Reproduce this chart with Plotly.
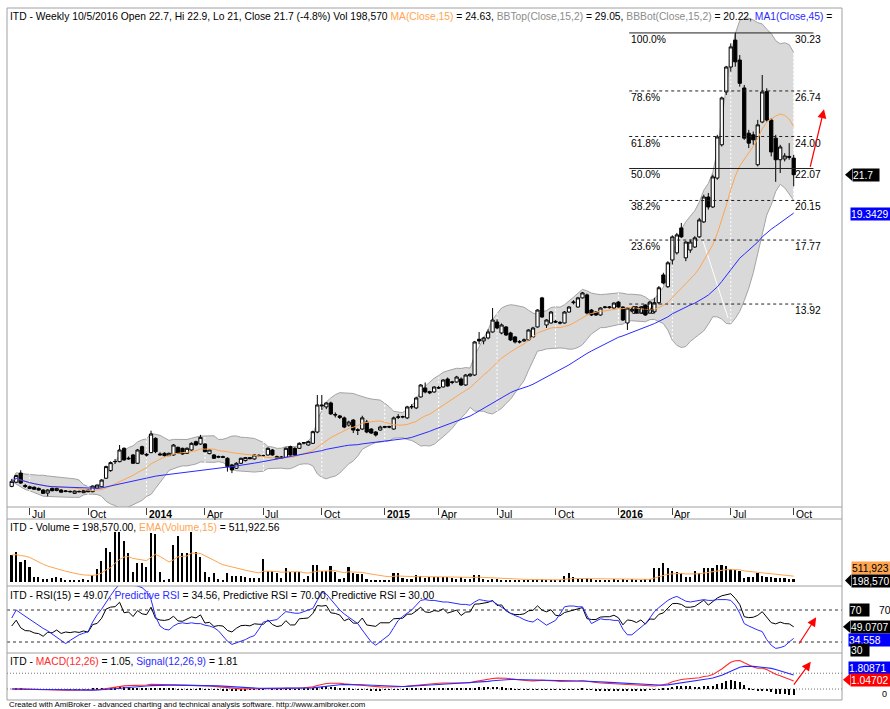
import numpy as np
import pandas as pd
import plotly.graph_objects as go

# ------------------------------------------------------------------ data (weekly bars)
first_friday = "2013-06-07"
last_bar_date = "2016-10-05"
holiday_relabel = {"2015-01-02": "2014-12-31", "2016-01-01": "2015-12-31"}

opens = [
    2.95, 3.20, 3.75, 3.00, 2.82, 2.90, 2.83, 2.73, 2.55, 2.83,
    2.70, 2.73, 2.64, 2.65, 2.53, 2.65, 2.57, 2.73, 2.63, 2.85,
    2.93, 3.44, 3.90, 4.45, 4.44, 5.24, 4.60, 4.84, 4.34, 5.34,
    4.88, 4.98, 5.84, 4.90, 4.94, 4.80, 4.84, 5.30, 5.24, 4.94,
    5.14, 5.64, 5.50, 5.50, 4.92, 4.84, 4.70, 4.74, 4.64, 4.24,
    4.04, 4.34, 4.50, 4.68, 4.60, 4.82, 4.80, 4.84, 5.14, 4.74,
    4.64, 4.70, 5.34, 5.24, 5.24, 5.55, 5.44, 5.54, 6.22, 7.85,
    7.73, 7.97, 7.28, 7.19, 7.07, 6.64, 6.94, 6.36, 6.40, 6.82,
    6.40, 6.22, 6.34, 6.50, 6.55, 6.40, 7.10, 7.12, 7.07, 7.73,
    7.67, 8.33, 8.87, 8.65, 8.63, 8.90, 8.93, 9.41, 9.20, 9.23,
    9.41, 9.05, 9.60, 9.65, 11.80, 11.70, 11.88, 12.24, 12.84, 12.18,
    12.54, 12.18, 11.94, 11.66, 11.70, 11.76, 11.94, 12.54, 14.29, 12.66,
    12.78, 12.88, 12.80, 12.78, 13.44, 14.00, 13.74, 14.29, 14.47, 13.56,
    13.44, 13.26, 13.72, 13.70, 13.68, 14.04, 13.74, 12.78, 13.50, 13.74,
    13.38, 13.86, 13.38, 13.45, 14.00, 15.67, 14.96, 16.57, 17.00, 18.50,
    16.70, 17.17, 17.35, 17.96, 18.86, 20.36, 19.76, 21.50, 23.50, 26.68,
    28.18, 29.80, 28.60, 26.92, 24.20, 24.10, 22.30, 24.87, 26.70, 24.99,
    23.90, 22.60, 22.65, 22.80, 22.70,
]
highs = [
    3.40, 3.65, 3.92, 3.10, 3.00, 2.95, 2.88, 2.78, 2.78, 2.88,
    2.88, 2.78, 2.72, 2.70, 2.70, 2.70, 2.72, 2.76, 3.00, 3.06,
    3.38, 4.20, 4.45, 4.60, 5.44, 5.30, 4.75, 4.90, 5.20, 5.40,
    4.95, 6.30, 5.90, 5.00, 5.00, 4.98, 5.50, 5.35, 5.28, 5.30,
    5.60, 5.70, 6.05, 5.55, 5.18, 4.90, 4.80, 4.80, 4.70, 4.30,
    4.40, 4.68, 4.72, 4.72, 4.88, 4.88, 4.86, 5.30, 5.20, 4.80,
    4.78, 5.30, 5.40, 5.30, 5.60, 5.62, 5.70, 6.30, 8.45, 8.45,
    8.00, 8.05, 7.40, 7.25, 7.15, 6.90, 7.00, 6.45, 7.20, 6.95,
    6.45, 6.28, 6.60, 6.60, 6.60, 7.15, 7.30, 7.20, 7.80, 7.90,
    8.35, 9.10, 9.20, 8.70, 8.98, 9.00, 9.40, 9.50, 9.30, 9.60,
    9.50, 9.70, 9.75, 11.70, 12.24, 11.95, 12.40, 13.68, 13.00, 12.75,
    12.60, 12.25, 12.00, 11.75, 11.85, 12.40, 12.55, 13.60, 14.35, 13.00,
    13.50, 12.95, 12.90, 13.50, 13.80, 14.15, 14.35, 14.65, 14.55, 13.62,
    13.50, 13.72, 13.80, 13.80, 14.02, 14.10, 13.78, 13.72, 13.70, 13.80,
    13.78, 13.90, 14.10, 14.30, 15.00, 15.80, 16.50, 18.05, 18.20, 18.80,
    17.70, 17.80, 18.00, 19.10, 20.50, 20.60, 21.70, 24.10, 26.40, 28.25,
    29.60, 30.23, 28.90, 27.10, 24.40, 24.30, 25.00, 27.70, 26.90, 25.10,
    24.10, 23.50, 23.00, 23.60, 22.90,
]
lows = [
    2.90, 3.15, 3.10, 2.85, 2.78, 2.75, 2.70, 2.50, 2.35, 2.65,
    2.66, 2.58, 2.60, 2.58, 2.50, 2.60, 2.55, 2.60, 2.60, 2.82,
    2.90, 3.40, 3.83, 4.30, 4.40, 4.50, 4.55, 4.30, 4.30, 4.85,
    4.75, 4.95, 4.95, 4.80, 4.75, 4.78, 4.80, 4.90, 4.85, 4.90,
    5.10, 5.40, 5.45, 5.00, 4.88, 4.60, 4.65, 4.65, 3.84, 3.75,
    4.00, 4.30, 4.45, 4.58, 4.55, 4.75, 4.74, 4.80, 4.80, 4.58,
    4.60, 4.66, 4.80, 4.80, 5.20, 5.48, 5.40, 5.50, 6.15, 7.55,
    7.60, 7.25, 7.10, 7.00, 6.45, 6.55, 6.16, 6.04, 6.35, 6.15,
    6.10, 5.95, 6.30, 6.45, 6.45, 6.35, 7.00, 7.05, 7.00, 7.60,
    7.60, 8.30, 8.55, 8.50, 8.58, 8.80, 8.90, 8.95, 9.10, 9.20,
    9.00, 9.00, 9.55, 9.60, 11.50, 11.50, 11.80, 12.20, 12.40, 12.10,
    12.00, 11.70, 11.55, 11.55, 11.65, 11.70, 11.90, 12.50, 13.10, 12.48,
    12.75, 12.78, 12.70, 12.75, 13.40, 13.90, 13.70, 14.25, 13.30, 13.20,
    13.20, 13.22, 13.65, 13.65, 13.64, 13.70, 12.90, 12.36, 13.45, 13.34,
    13.34, 13.22, 13.34, 13.35, 13.90, 15.10, 14.90, 16.30, 16.90, 17.90,
    16.50, 17.00, 17.30, 17.90, 18.80, 19.60, 19.70, 21.40, 23.40, 26.50,
    27.90, 28.20, 27.00, 23.80, 23.30, 23.50, 22.20, 24.80, 24.90, 22.80,
    21.27, 21.80, 22.50, 22.60, 21.00,
]
closes = [
    3.25, 3.60, 3.15, 2.95, 2.93, 2.78, 2.73, 2.53, 2.73, 2.69,
    2.83, 2.60, 2.67, 2.63, 2.67, 2.63, 2.69, 2.63, 2.97, 3.03,
    3.33, 4.14, 4.38, 4.44, 5.14, 4.54, 4.64, 4.34, 5.14, 4.90,
    4.84, 6.10, 5.04, 4.85, 4.80, 4.94, 5.44, 4.94, 4.90, 5.24,
    5.54, 5.44, 5.90, 5.04, 5.14, 4.64, 4.75, 4.70, 4.14, 3.94,
    4.34, 4.64, 4.68, 4.62, 4.84, 4.80, 4.80, 5.24, 4.84, 4.64,
    4.72, 5.24, 4.84, 4.84, 5.54, 5.58, 5.64, 6.24, 7.85, 7.80,
    7.97, 7.31, 7.25, 7.10, 6.52, 6.82, 6.34, 6.32, 7.07, 6.22,
    6.16, 6.04, 6.52, 6.55, 6.52, 7.07, 7.13, 7.15, 7.73, 7.75,
    8.27, 9.05, 8.63, 8.58, 8.93, 8.87, 9.35, 8.99, 9.23, 9.53,
    9.05, 9.65, 9.70, 11.64, 11.70, 11.88, 12.24, 12.96, 12.48, 12.66,
    12.06, 11.76, 11.64, 11.64, 11.76, 12.36, 12.48, 13.56, 13.14, 12.96,
    13.44, 12.84, 12.78, 13.44, 13.74, 14.04, 14.29, 14.59, 13.38, 13.26,
    13.26, 13.68, 13.74, 13.74, 13.98, 13.74, 12.96, 13.68, 13.60, 13.38,
    13.74, 13.26, 14.04, 14.00, 14.90, 15.19, 16.40, 17.96, 18.08, 17.96,
    17.65, 17.65, 17.90, 18.98, 20.36, 19.76, 21.57, 23.97, 26.32, 28.18,
    29.39, 28.49, 27.20, 23.90, 23.60, 23.80, 24.70, 26.68, 24.99, 23.07,
    22.60, 23.37, 22.83, 22.75, 21.70,
]
volume_thousands = [
    2000, 2200, 1500, 1630, 1130, 375, 320, 170, 200, 250,
    320, 280, 130, 100, 130, 75, 170, 130, 500, 920,
    1550, 2500, 2250, 3700, 3700, 3080, 2120, 750, 1370, 1370,
    1070, 3620, 3580, 750, 75, 200, 2750, 3450, 2120, 2120,
    3700, 2250, 1820, 750, 375, 620, 170, 130, 675, 430,
    430, 430, 320, 250, 250, 250, 1670, 825, 825, 620,
    250, 1000, 750, 750, 750, 200, 430, 1250, 1250, 800,
    800, 1180, 750, 170, 250, 1125, 675, 580, 580, 170,
    130, 75, 75, 130, 130, 620, 620, 250, 170, 170,
    500, 430, 250, 375, 375, 320, 375, 320, 250, 170,
    320, 225, 170, 500, 500, 170, 130, 170, 170, 100,
    100, 75, 130, 130, 100, 100, 100, 130, 170, 100,
    100, 100, 130, 430, 620, 320, 225, 200, 250, 170,
    130, 100, 150, 150, 170, 150, 170, 150, 170, 130,
    150, 170, 225, 1000, 1000, 1370, 1000, 825, 750, 675,
    320, 375, 800, 675, 1050, 1050, 1000, 1250, 1250, 1200,
    920, 880, 825, 250, 375, 320, 675, 430, 320, 375,
    300, 250, 250, 200, 198.57,
]
predictive_rsi = [
    60, 70, 66, 62, 58, 55, 51, 47, 44, 40,
    35, 31, 28, 32, 36, 39, 41, 43, 55, 64,
    71, 80, 88, 96, 102, 104, 103, 101, 100, 98,
    93, 83, 62, 50, 46, 45, 50, 53, 54, 53,
    54, 53, 53, 51, 50, 48, 44, 38, 31, 27,
    29, 31, 33, 36, 38, 46, 55, 56, 57, 58,
    63, 68, 67, 66, 66, 68, 70, 72, 82, 92,
    90, 83, 76, 70, 65, 61, 57, 53, 45, 37,
    30, 26, 30, 35, 39, 48, 57, 62, 66, 70,
    76, 82, 83, 82, 82, 81, 80, 80, 79, 78,
    77, 77, 76, 80, 83, 82, 81, 81, 77, 73,
    70, 66, 63, 61, 58, 56, 55, 59, 55, 51,
    54, 57, 65, 74, 75, 75, 74, 74, 63, 53,
    56, 59, 58, 58, 57, 57, 46, 39, 39, 44,
    49, 53, 60, 68, 73, 78, 82, 85, 87, 84,
    81, 80, 81, 82, 83, 82, 82, 83, 83, 83,
    82, 76, 66, 53, 50, 47, 45, 43, 33, 26,
    22, 23, 25, 30, 34.56,
]
rsi_levels = [70, 30]

# Fibonacci retracement drawn on the chart
fib_low, fib_high = 13.92, 30.23
fib_pcts = [1.0, 0.786, 0.618, 0.5, 0.382, 0.236, 0.0]
fib_pct_text = ["100.0%", "78.6%", "61.8%", "50.0%", "38.2%", "23.6%", "0.0%"]
fib_val_text = ["30.23", "26.74", "24.00", "22.07", "20.15", "17.77", "13.92"]
fib_solid = [True, False, False, True, False, False, False]
fib_bar_start, fib_bar_end, fib_value_bar = 137.4, 178.4, 173.9

# hand drawings (bar position, value)
white_trend = [(153.6, 17.9), (159.4, 13.08)]
arrow_price = ((177.6, 22.09), (180.75, 25.64))
arrow_rsi = ((175.0, 26.25), (179.0, 60.9))
arrow_macd = ((173.8, 0.38), (177.8, 3.46))

# values shown in the titles / right-hand labels
lbl_close, lbl_ma45 = 21.7, 19.3429
lbl_vol, lbl_rsi, lbl_prsi = 198570, 49.0707, 34.558
lbl_sig, lbl_macd = 1.80871, 1.04702

title_price = ("ITD - Weekly 10/5/2016 Open 22.7, Hi 22.9, Lo 21, Close 21.7 (-4.8%) Vol 198,570 "
               "<span style='color:#ffa54f'>MA(Close,15)</span> = 24.63, "
               "<span style='color:#8c8c8c'>BBTop(Close,15,2)</span> = 29.05, "
               "<span style='color:#8c8c8c'>BBBot(Close,15,2)</span> = 20.22, "
               "<span style='color:#2a2aff'>MA1(Close,45)</span> =")
title_vol = "ITD - Volume = 198,570.00, <span style='color:#ffa54f'>EMA(Volume,15)</span> = 511,922.56"
title_rsi = ("ITD - RSI(15) = 49.07, <span style='color:#2a2aff'>Predictive RSI</span> = 34.56, "
             "Predictive RSI = 70.00, Predictive RSI = 30.00")
title_macd = ("ITD - <span style='color:#ff2a2a'>MACD(12,26)</span> = 1.05, "
              "<span style='color:#2a2aff'>Signal(12,26,9)</span> = 1.81")
footer = "Created with AmiBroker - advanced charting and technical analysis software. http://www.amibroker.com"

# ------------------------------------------------------------------ derived
n = len(closes)
wk = pd.date_range(first_friday, periods=n - 1, freq="W-FRI").strftime("%Y-%m-%d").tolist()
dates = pd.to_datetime([holiday_relabel.get(d, d) for d in wk] + [last_bar_date])
idx = np.arange(n)

tick_idx, tick_txt = [], []
for i in range(1, n):
    m = dates[i].month
    if m != dates[i - 1].month and m in (1, 4, 7, 10):
        tick_idx.append(i)
        tick_txt.append(f"<b>{dates[i].year}</b>" if m == 1 else dates[i].strftime("%b"))

c = pd.Series(closes, dtype=float)
ma15 = c.rolling(15, min_periods=1).mean()
sd15 = c.rolling(15, min_periods=1).std(ddof=0)
bb_top = ma15 + 2 * sd15
bb_bot = ma15 - 2 * sd15
ma45 = c.rolling(45, min_periods=1).mean()

vol = pd.Series(volume_thousands, dtype=float) * 1000
vol_ema = vol.ewm(span=15, adjust=False).mean()

# Wilder RSI(15), seeded neutral (no earlier history is visible)
chg = c.diff().fillna(0).to_numpy()
seed = np.abs(chg[1:16]).mean() / 2
ag, al = seed, seed
rsi_vals = []
for k in range(n):
    if k > 0:
        ag = (ag * 14 + max(chg[k], 0)) / 15
        al = (al * 14 + max(-chg[k], 0)) / 15
    rsi_vals.append(100 - 100 / (1 + ag / al))
rsi = pd.Series(rsi_vals)

ema12 = c.ewm(span=12, adjust=False).mean()
ema26 = c.ewm(span=26, adjust=False).mean()
macd = ema12 - ema26
signal = macd.ewm(span=9, adjust=False).mean()
hist = macd - signal

# ------------------------------------------------------------------ geometry
FIG_W, FIG_H = 890, 709
PL, PR, PT, PB = 7, 842, 8, 700
PRICE_BOT, VOL_TOP, VOL_BOT, RSI_BOT = 507, 519, 586, 653


def pp(px):  # pixel row -> paper y
    return (PB - px) / (PB - PT)


price_dom = [pp(PRICE_BOT), 1.0]
vol_dom = [pp(VOL_BOT), pp(VOL_TOP)]
rsi_dom = [pp(RSI_BOT), pp(VOL_BOT)]
macd_dom = [0.0, pp(RSI_BOT)]

x_range = [-1.05, 184.75]
price_range = [1.71, 31.73]
vol_range = [-322500, 4702500]
rsi_range = [16.25, 100]
macd_range = [-1.39, 4.56]


def v2p(v, rng, dm):
    return dm[0] + (v - rng[0]) / (rng[1] - rng[0]) * (dm[1] - dm[0])


FONT = "Liberation Sans, Arial, Helvetica, sans-serif"
FS = 10.3
ORANGE = "#ffa54f"
BLUE = "#2a2aff"
RED = "#ff2a2a"
BB_FILL = "#d9d9d9"
BB_LINE = "#a3a3a3"
FRAME = "#a0a0a0"

fig = go.Figure()
common = dict(hoverinfo="skip", showlegend=False)

# base price layer: Bollinger cloud + white grid + white trend line
fig.add_trace(go.Scatter(x=idx, y=bb_bot, mode="lines", line=dict(color=BB_LINE, width=1),
                         xaxis="x", yaxis="y", **common))
fig.add_trace(go.Scatter(x=idx, y=bb_top, mode="lines", line=dict(color=BB_LINE, width=1),
                         fill="tonexty", fillcolor=BB_FILL, xaxis="x", yaxis="y", **common))
gx, gy = [], []
for t in tick_idx:
    gx += [t, t, None]
    gy += [price_range[0], price_range[1], None]
fig.add_trace(go.Scatter(x=gx, y=gy, mode="lines", line=dict(color="white", width=1, dash="2px,2px"),
                         xaxis="x", yaxis="y", **common))
fig.add_trace(go.Scatter(x=[p[0] for p in white_trend], y=[p[1] for p in white_trend], mode="lines",
                         line=dict(color="white", width=1), xaxis="x", yaxis="y", **common))

# overlay price layer: candles + moving averages
fig.add_trace(go.Candlestick(x=idx, open=opens, high=highs, low=lows, close=closes,
                             increasing=dict(line=dict(color="black", width=1), fillcolor="white"),
                             decreasing=dict(line=dict(color="black", width=1), fillcolor="black"),
                             xaxis="x", yaxis="y2", hoverinfo="skip", showlegend=False))
fig.add_trace(go.Scatter(x=idx, y=ma15, mode="lines", line=dict(color=ORANGE, width=1),
                         xaxis="x", yaxis="y2", **common))
fig.add_trace(go.Scatter(x=idx, y=ma45, mode="lines", line=dict(color=BLUE, width=1),
                         xaxis="x", yaxis="y2", **common))

# volume
fig.add_trace(go.Bar(x=idx, y=vol, width=0.36, marker=dict(color="black", line=dict(width=0)),
                     xaxis="x2", yaxis="y3", **common))
fig.add_trace(go.Scatter(x=idx, y=vol_ema, mode="lines", line=dict(color=ORANGE, width=1),
                         xaxis="x2", yaxis="y3", **common))

# RSI
fig.add_trace(go.Scatter(x=idx, y=rsi, mode="lines", line=dict(color="black", width=1),
                         xaxis="x3", yaxis="y4", **common))
fig.add_trace(go.Scatter(x=idx, y=predictive_rsi, mode="lines", line=dict(color=BLUE, width=1),
                         xaxis="x3", yaxis="y4", **common))

# MACD
fig.add_trace(go.Bar(x=idx, y=hist, width=0.25, marker=dict(color="black", line=dict(width=0)),
                     xaxis="x4", yaxis="y5", **common))
fig.add_trace(go.Scatter(x=idx, y=macd, mode="lines", line=dict(color=RED, width=1.1),
                         xaxis="x4", yaxis="y5", **common))
fig.add_trace(go.Scatter(x=idx, y=signal, mode="lines", line=dict(color=BLUE, width=1.1),
                         xaxis="x4", yaxis="y5", **common))

# ------------------------------------------------------------------ shapes
shapes = []
for yv in [0.0, 1.0, pp(PRICE_BOT), pp(VOL_TOP), pp(VOL_BOT), pp(RSI_BOT)]:
    shapes.append(dict(type="line", xref="paper", yref="paper", x0=0, x1=1, y0=yv, y1=yv,
                       line=dict(color=FRAME, width=1), layer="above"))
for xv in [0.0, 1.0]:
    shapes.append(dict(type="line", xref="paper", yref="paper", x0=xv, x1=xv, y0=0, y1=1,
                       line=dict(color=FRAME, width=1), layer="above"))
for lv in rsi_levels:
    shapes.append(dict(type="line", xref="paper", yref="y4", x0=0, x1=1, y0=lv, y1=lv,
                       line=dict(color="#303030", width=1, dash="3px,3px"), layer="below"))
for lv in [0, 2]:
    shapes.append(dict(type="line", xref="paper", yref="y5", x0=0, x1=1, y0=lv, y1=lv,
                       line=dict(color="#707070", width=1, dash="1px,2px"), layer="below"))
fib_levels = [fib_low + p * (fib_high - fib_low) for p in fib_pcts]
for lv, solid in zip(fib_levels, fib_solid):
    shapes.append(dict(type="line", xref="x", yref="y2", x0=fib_bar_start, x1=fib_bar_end, y0=lv, y1=lv,
                       line=dict(color="#202020", width=1, dash="solid" if solid else "3px,3px"),
                       layer="above"))

annotations = []


def note(text, x, y, xref="paper", yref="paper", xanchor="left", yanchor="top", xshift=0, yshift=0,
         size=FS, color="black", **kw):
    annotations.append(dict(text=text, x=x, y=y, xref=xref, yref=yref, xanchor=xanchor, yanchor=yanchor,
                            xshift=xshift, yshift=yshift, showarrow=False,
                            font=dict(family=FONT, size=size, color=color), **kw))


note(title_price, 0, 1, xshift=1, yshift=-1)
note(title_vol, 0, vol_dom[1], xshift=1, yshift=-1)
note(title_rsi, 0, rsi_dom[1], xshift=1, yshift=-2)
note(title_macd, 0, macd_dom[1], xshift=1, yshift=-1)
note(footer, 0, 0, xshift=1, yshift=1, size=7.8, borderpad=0)

for t, txt in zip(tick_idx, tick_txt):
    note(txt, t, price_dom[0], xref="x", xshift=0, yshift=0)

for lv, pt, vt in zip(fib_levels, fib_pct_text, fib_val_text):
    note(pt, fib_bar_start, lv, xref="x", yref="y2", yshift=1)
    note(vt, fib_value_bar, lv, xref="x", yref="y2", yshift=1)

# right-hand value labels
right_labels = [
    # value, text, range, domain, bg, fg, left px, width, yshift, pointer tip px (None = no pointer)
    (lbl_close, "21.7", price_range, price_dom, "#000000", "#ffffff", 852, 26, 0, 845),
    (lbl_ma45, "19.3429", price_range, price_dom, "#0000ff", "#ffffff", 850, 44, 0, None),
    (lbl_vol, "511,923", vol_range, vol_dom, ORANGE, "#000000", 851, 42, 11, None),
    (lbl_vol, "198,570", vol_range, vol_dom, "#000000", "#ffffff", 851, 42, -1.5, 845),
    (rsi_levels[0], "70", rsi_range, rsi_dom, "#000000", "#ffffff", 849, 19, 0, None),
    (lbl_rsi, "49.0707", rsi_range, rsi_dom, "#000000", "#ffffff", 850, 44, 0, 843),
    (lbl_prsi, "34.558", rsi_range, rsi_dom, "#0000ff", "#ffffff", 848, 42, -1.5, None),
    (rsi_levels[1], "30", rsi_range, rsi_dom, "#000000", "#ffffff", 850, 18, -8, None),
    (lbl_sig, "1.80871", macd_range, macd_dom, "#0000ff", "#ffffff", 848, 44, 7, None),
    (lbl_macd, "1.04702", macd_range, macd_dom, "#ff0000", "#ffffff", 850, 44, 1, 843),
]
for v, txt, rng, dm, bg, fg, left, w, ys, tip in right_labels:
    yp = v2p(v, rng, dm)
    annotations.append(dict(text=txt, x=1, y=yp, xref="paper", yref="paper", xanchor="left", yanchor="middle",
                            xshift=left - PR, yshift=ys, showarrow=False, bgcolor=bg, width=w, height=12,
                            align="left", borderpad=0, font=dict(family=FONT, size=FS, color=fg)))
    if tip is not None:
        a, b = tip - PR, left - PR
        shapes.append(dict(type="path", xref="paper", yref="paper", xsizemode="pixel", ysizemode="pixel",
                           xanchor=1, yanchor=yp,
                           path=f"M {a},{ys} L {b},{ys + 6} L {b},{ys - 6} Z",
                           fillcolor=bg, line=dict(width=0), layer="above"))

note("70", 1, v2p(rsi_levels[0], rsi_range, rsi_dom), yanchor="middle", xshift=35)
note("0", 1, v2p(0, macd_range, macd_dom), yanchor="middle", xshift=38, yshift=-5, size=9)

# red hand-drawn arrows
for (tail, head), xr, yr in [(arrow_price, "x", "y2"), (arrow_rsi, "x3", "y4"), (arrow_macd, "x4", "y5")]:
    annotations.append(dict(x=head[0], y=head[1], ax=tail[0], ay=tail[1], xref=xr, yref=yr,
                            axref=xr, ayref=yr, text="", showarrow=True, arrowhead=2,
                            arrowsize=1.5, arrowwidth=1.2, arrowcolor="#ff0000", standoff=0))

# ------------------------------------------------------------------ layout
hidden_y = dict(visible=False, showgrid=False, zeroline=False, fixedrange=True)
fig.update_layout(
    width=FIG_W, height=FIG_H,
    margin=dict(l=PL, r=FIG_W - PR, t=PT, b=FIG_H - PB, pad=0),
    paper_bgcolor="white", plot_bgcolor="white",
    font=dict(family=FONT, size=FS, color="black"),
    showlegend=False, hovermode=False, bargap=0, boxgap=0.2, boxgroupgap=0.1,
    xaxis=dict(domain=[0, 1], range=x_range, anchor="y", showgrid=False, zeroline=False, showline=False,
               ticks="outside", ticklen=7, tickcolor="#404040", tickwidth=1, tickvals=tick_idx,
               showticklabels=False, rangeslider=dict(visible=False), fixedrange=True),
    xaxis2=dict(matches="x", anchor="y3", visible=False, showgrid=False),
    xaxis3=dict(matches="x", anchor="y4", visible=False, showgrid=False),
    xaxis4=dict(matches="x", anchor="y5", visible=False, showgrid=False),
    yaxis=dict(domain=price_dom, range=price_range, **hidden_y),
    yaxis2=dict(overlaying="y", range=price_range, **hidden_y),
    yaxis3=dict(domain=vol_dom, range=vol_range, **hidden_y),
    yaxis4=dict(domain=rsi_dom, range=rsi_range, **hidden_y),
    yaxis5=dict(domain=macd_dom, range=macd_range, **hidden_y),
    shapes=shapes,
    annotations=annotations,
)

fig.write_html("out.html", config={"displayModeBar": False})
